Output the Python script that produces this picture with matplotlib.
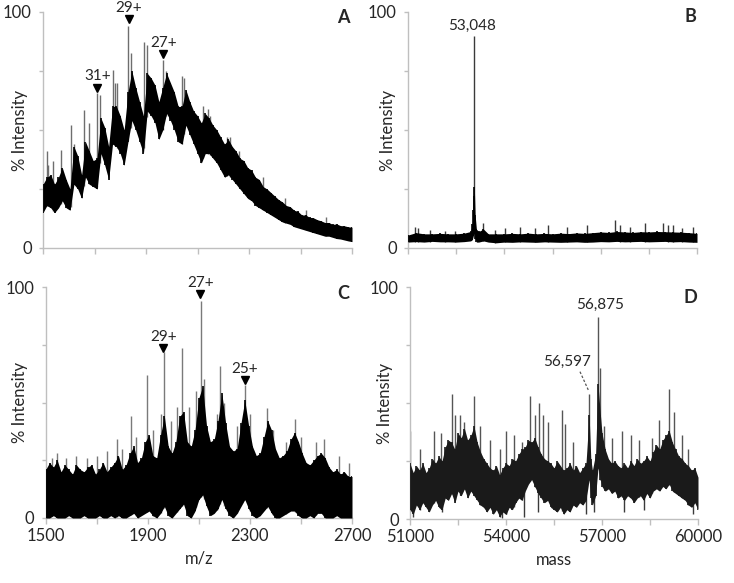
import numpy as np
import matplotlib
matplotlib.use("Agg")
import matplotlib.pyplot as plt

plt.rcParams['font.family'] = ['Lato', 'DejaVu Sans']

# ---------------- Panel A (m/z, native) ----------------
a_x = [1500, 1515, 1530, 1545, 1560, 1575, 1590, 1605, 1620, 1635, 1650, 1665, 1680, 1695, 1710,
       1725, 1740, 1755, 1770, 1785, 1800, 1815, 1830, 1845, 1860, 1875, 1890, 1905, 1920, 1935,
       1950, 1965, 1980, 1995, 2010, 2025, 2040, 2055, 2070, 2085, 2100, 2115, 2130, 2145, 2160,
       2175, 2190, 2205, 2220, 2235, 2250, 2265, 2280, 2295, 2310, 2325, 2340, 2355, 2370, 2385,
       2400, 2415, 2430, 2445, 2460, 2475, 2490, 2505, 2520, 2535, 2550, 2565, 2580, 2595, 2610,
       2625, 2640, 2655, 2670, 2685, 2700]
a_lo = [15, 18, 17, 15, 17, 20, 17, 16, 27, 25, 21, 30, 27, 26, 25,
        40, 35, 29, 44, 43, 40, 35, 45, 54, 50, 45, 40, 58, 56, 53,
        46, 50, 57, 54, 50, 45, 44, 52, 48, 44, 40, 36, 40, 40, 38,
        36, 33, 30, 31, 29, 27, 25, 23, 21, 20, 18, 17, 16, 15, 14,
        13, 12, 11, 10.5, 10, 9, 8.5, 8, 7.5, 7, 6.5, 6, 5.5, 5, 5,
        4.5, 4, 3.8, 3.4, 3, 2.7]
a_hi = [27, 30, 31, 27, 30, 34, 29, 25, 43, 39, 31, 45, 41, 37, 38,
        55, 51, 43, 60, 60, 56, 50, 66, 75, 68, 62, 56, 74, 72, 69,
        62, 68, 74, 70, 66, 60, 60, 67, 62, 58, 56, 53, 57, 55, 52,
        50, 47, 44, 46, 43, 41, 38, 37, 34, 33, 30, 29, 26, 25, 23.5,
        22, 20.5, 19.5, 18, 17.5, 16, 15.5, 14, 14, 13, 12.8, 12, 11.5, 10.8, 10.8,
        10, 10.2, 9.5, 9.4, 9, 8.8]
a_spike_x = [1514, 1521, 1540, 1569, 1607, 1620, 1659, 1680, 1711, 1721, 1770, 1780, 1788,
             1831, 1840, 1892, 1903, 1965, 1978, 2039, 2048, 2123, 2140, 2150, 2213, 2228,
             2260, 2355, 2440, 2520, 2600]
a_spike_y = [41, 35, 37, 41.5, 52, 44, 58.5, 53, 65.5, 65, 75.4, 70, 70,
             94, 82.5, 87.4, 86, 79.7, 75, 73, 72, 60, 59, 56, 47, 47,
             41, 30, 21, 16, 13]
a_marks = ['31+', '29+', '27+']
a_mark_x = [1711, 1833, 1967]
a_mark_y = [68, 97, 82]

# ---------------- Panel B (mass, native) ----------------
b_x = [51000, 51250, 51500, 51750, 52000, 52250, 52500, 52750, 52950, 53000, 53030, 53048, 53065,
       53090, 53130, 53200, 53350, 53500, 53750, 54000, 54250, 54500, 54750, 55000, 55250, 55500,
       55750, 56000, 56250, 56500, 56750, 57000, 57250, 57500, 57750, 58000, 58250, 58500, 58750,
       59000, 59250, 59500, 59750, 60000]
b_lo = [2.5, 2.7, 2.5, 2.8, 2.6, 2.6, 2.5, 2.7, 3, 3.5, 5, 6, 8,
        4, 2.5, 2.5, 3, 2.5, 2.2, 2.5, 2.4, 2.6, 2.5, 2.4, 2.6, 2.5,
        2.4, 2.5, 2.6, 2.4, 2.5, 2.7, 2.6, 2.8, 2.6, 2.7, 2.8, 2.6, 2.7,
        2.8, 2.6, 2.7, 2.5, 2.4]
b_hi = [5.5, 6.5, 6, 6, 6.2, 6, 6, 6.3, 7, 10, 16, 22, 26,
        14, 8, 7, 8, 6, 6, 6, 6.2, 6, 6.3, 6, 6.2, 6,
        6.3, 6.1, 6.4, 6.2, 6.5, 6.8, 6.6, 7, 6.8, 6.6, 6.9, 6.8, 7,
        6.9, 6.8, 6.7, 6.5, 6.2]
b_spike_x = [51218, 51322, 51685, 52152, 52463, 53048, 53346, 53709, 54020, 54487, 54954, 55370,
             55941, 56564, 57446, 57602, 57913, 58380, 58951, 59107, 59263, 59522, 59885]
b_spike_y = [9, 8.5, 7.8, 7, 7, 90, 10.5, 7.8, 8.5, 9, 8.5, 9.7,
             9, 9.7, 11.9, 9.7, 9, 10.5, 10.5, 9.7, 9.7, 8.5, 9]
b_peak_label = '53,048'
b_peak_x = 53000
b_peak_y = 94

# ---------------- Panel C (m/z, deglycosylated) ----------------
c_x = [1500, 1515, 1530, 1545, 1560, 1575, 1590, 1605, 1620, 1635, 1650, 1665, 1680, 1695, 1710,
       1725, 1740, 1755, 1770, 1785, 1800, 1815, 1830, 1845, 1860, 1875, 1890, 1905, 1920, 1935,
       1950, 1965, 1980, 1995, 2010, 2025, 2040, 2055, 2070, 2085, 2100, 2115, 2130, 2145, 2160,
       2175, 2190, 2205, 2220, 2235, 2250, 2265, 2280, 2295, 2310, 2325, 2340, 2355, 2370, 2385,
       2400, 2415, 2430, 2445, 2460, 2475, 2490, 2505, 2520, 2535, 2550, 2565, 2580, 2595, 2610,
       2625, 2640, 2655, 2670, 2685, 2700]
c_lo = [0, 0, 1, 0, 0, 0, 1, 0, 0, 0, 1, 0, 0, 0, 1,
        0, 0, 1, 0, 1, 0, 0, 1, 2, 0, 1, 2, 3, 1, 0,
        2, 5, 1, 0, 2, 4, 6, 1, 0, 3, 8, 10, 5, 1, 2,
        4, 8, 4, 1, 0, 2, 5, 8, 4, 1, 0, 1, 3, 5, 2,
        0, 0, 1, 2, 3, 3, 1, 0, 0, 1, 0, 2, 2, 0, 0,
        0, 1, 0, 0, 0, 0]
c_hi = [21, 24, 22, 25, 20, 23, 21, 19, 23, 21, 20, 22, 23, 19, 21,
        24, 20, 22, 24, 27, 21, 23, 28, 31, 24, 26, 33, 36, 27, 26,
        36, 44, 31, 28, 33, 44, 46, 33, 31, 38, 52, 57, 40, 33, 34,
        42, 54, 41, 31, 29, 30, 41, 51, 40, 31, 27, 28, 35, 42, 38,
        30, 26, 27, 29, 34, 37, 33, 28, 24, 23, 25, 27, 28, 26, 22,
        20, 21, 19, 20, 18, 18]
c_spike_x = [1525, 1545, 1580, 1620, 1660, 1700, 1740, 1778, 1800, 1836, 1855, 1897, 1920, 1951,
             1962, 1990, 2013, 2033, 2060, 2090, 2107, 2120, 2170, 2183, 2200, 2250, 2281, 2300,
             2366, 2390, 2440, 2477, 2500, 2560, 2590, 2650, 2690]
c_spike_y = [26, 28, 26, 27, 26, 27, 29, 34, 30, 44, 35, 62, 38, 45,
             72, 42, 48, 73.5, 48, 55, 94, 60, 45, 66, 50, 40, 57.6, 45,
             47.5, 38, 33, 43, 35, 33, 34, 27, 24]
c_marks = ['29+', '27+', '25+']
c_mark_x = [1961, 2105, 2281]
c_mark_y = [73.4, 97, 59.7]

# ---------------- Panel D (mass, deglycosylated) ----------------
d_x = [51000, 51100, 51200, 51300, 51400, 51500, 51600, 51700, 51800, 51900, 52000, 52100, 52200,
       52300, 52400, 52500, 52600, 52700, 52800, 52900, 53000, 53100, 53200, 53300, 53400, 53500,
       53600, 53700, 53800, 53900, 54000, 54100, 54200, 54300, 54400, 54500, 54600, 54700, 54800,
       54900, 55000, 55100, 55200, 55300, 55400, 55500, 55600, 55700, 55800, 55900, 56000, 56100,
       56200, 56300, 56400, 56500, 56597, 56650, 56700, 56800, 56875, 56950, 57000, 57100, 57200,
       57300, 57400, 57500, 57600, 57700, 57800, 57900, 58000, 58100, 58200, 58300, 58400, 58500,
       58600, 58700, 58800, 58900, 59000, 59100, 59200, 59300, 59400, 59500, 59600, 59700, 59800,
       59900, 60000]
d_lo = [4, 2, 6, 4, 7, 5, 3, 6, 8, 5, 4, 9, 8,
        11, 7, 12, 10, 13, 9, 12, 10, 8, 6, 5, 3, 5,
        2, 4, 1, 3, 2, 5, 4, 7, 9, 8, 12, 15, 17,
        14, 11, 9, 7, 8, 5, 4, 3, 5, 2, 4, 3, 6,
        5, 7, 6, 8, 17, 9, 6, 10, 22, 17, 14, 12, 13,
        11, 12, 9, 10, 8, 10, 9, 7, 9, 10, 8, 11, 9,
        12, 13, 12, 14, 13, 15, 12, 11, 10, 9, 8, 6, 5,
        7, 4]
d_hi = [24, 20, 23, 21, 24, 20, 22, 26, 24, 27, 25, 31, 34,
        33, 30, 37, 35, 39, 34, 36, 40, 33, 29, 26, 24, 22,
        21, 23, 19, 22, 24, 23, 26, 25, 28, 30, 31, 34, 33,
        35, 31, 28, 26, 25, 24, 22, 25, 23, 21, 22, 24, 21,
        23, 20, 22, 24, 45, 26, 21, 28, 58, 45, 37, 30, 26,
        24, 25, 23, 22, 24, 22, 25, 23, 26, 24, 25, 27, 25,
        29, 32, 30, 34, 36, 38, 33, 30, 27, 26, 24, 23, 21,
        22, 18]
d_spike_x = [51010, 51300, 51740, 51960, 52302, 52420, 52573, 52700, 52990, 53200, 53500, 53800,
             54000, 54240, 54500, 54760, 54900, 55021, 55150, 55300, 55750, 55850, 56100, 56597,
             56875, 56950, 57060, 57300, 57630, 57900, 58150, 58570, 58770, 59084, 59240, 59500, 59700]
d_spike_y = [38, 30, 38, 37, 54, 45, 45, 42, 53, 40, 34, 30,
             38, 36, 33, 53, 45, 50, 45, 42, 47, 41, 33, 54,
             87, 65, 40, 35, 38, 36, 34, 35, 42.7, 56, 46, 36, 30]
d_dip_x = [51100, 52000, 53870, 54000, 54560, 55000, 56500, 56760, 57700, 58300, 59850]
d_dip_y = [1, 3, 0.5, 2, 1, 3, 2, 3, 3, 4, 2]
d_labels = ['56,875', '56,597']
d_label_x = [56937, 55896]
d_label_y = [92.2, 67.8]
d_leader_x = [56312, 56572]
d_leader_y = [63.5, 55.6]

W, H = 734, 583
fig = plt.figure(figsize=(W / 100, H / 100), dpi=100)

def px_axes(l, r, t, b):
    return fig.add_axes([l / W, 1 - b / H, (r - l) / W, (b - t) / H])

axA = px_axes(43, 352, 12, 248)
axB = px_axes(408, 697, 12, 248)
axC = px_axes(45.7, 352, 287, 518)
axD = px_axes(410, 698, 287, 519)

GRAY = '#bfbfbf'
TXT = '#262626'

def style(ax, xlim, major, minor, show_xlabels, ylab_x):
    ax.set_xlim(*xlim)
    ax.set_ylim(0, 100)
    for s in ['top', 'right']:
        ax.spines[s].set_visible(False)
    for s in ['left', 'bottom']:
        ax.spines[s].set_color(GRAY)
        ax.spines[s].set_linewidth(1.0)
    ax.set_xticks(minor)
    if show_xlabels:
        ax.set_xticklabels([str(v) if v in major else '' for v in minor])
    else:
        ax.set_xticklabels([])
    ax.set_yticks([0, 25, 50, 75, 100])
    ax.set_yticklabels(['0', '', '', '', '100'])
    ax.tick_params(axis='both', colors=GRAY, labelcolor=TXT, labelsize=12, length=4, width=1)
    ax.tick_params(axis='y', pad=5, length=3)
    ax.tick_params(axis='x', pad=3)
    ax.set_ylabel('% Intensity', fontsize=12, color=TXT, va='center')
    ax.yaxis.set_label_coords(ylab_x, 0.5)

def body(ax, x, lo, hi, sx, sy, spike_col, spike_lw, body_col='black'):
    x = np.asarray(x, float)
    lo = np.asarray(lo, float)
    hi = np.asarray(hi, float)
    sx = np.asarray(sx, float)
    ax.vlines(sx, np.interp(sx, x, lo), sy, color=spike_col, lw=spike_lw, zorder=2)
    ax.fill_between(x, lo, hi, color=body_col, lw=0, zorder=3)
    ax.vlines(x, lo, hi, color=body_col, lw=1.2, zorder=3)

def letter(ax, s, xf, yf):
    ax.text(xf, yf, s, transform=ax.transAxes, ha='center', va='center',
            fontsize=13, fontweight='bold', color=TXT)

def charge_marks(ax, labels, xs, ys):
    for lab, mx, my in zip(labels, xs, ys):
        ax.plot([mx], [my], marker='v', color='black', ms=6, clip_on=False, zorder=5)
        ax.annotate(lab, (mx, my), xytext=(0, 3), textcoords='offset points', ha='center',
                    va='bottom', fontsize=11, color=TXT, annotation_clip=False)

mz_minor = [1500, 1700, 1900, 2100, 2300, 2500, 2700]
mz_major = [1500, 1900, 2300, 2700]
m_minor = [51000, 52500, 54000, 55500, 57000, 58500, 60000]
m_major = [51000, 54000, 57000, 60000]

# A
body(axA, a_x, a_lo, a_hi, a_spike_x, a_spike_y, '#6e6e6e', 1.0)
style(axA, (1500, 2700), mz_major, mz_minor, False, -0.074)
charge_marks(axA, a_marks, a_mark_x, a_mark_y)
letter(axA, 'A', 0.971, 0.975)

# B
body(axB, b_x, b_lo, b_hi, b_spike_x, b_spike_y, '#3a3a3a', 1.0)
style(axB, (51000, 60000), m_major, m_minor, False, -0.069)
axB.text(b_peak_x, b_peak_y, b_peak_label, ha='center', va='center', fontsize=11, color=TXT)
letter(axB, 'B', 0.976, 0.979)

# C
body(axC, c_x, c_lo, c_hi, c_spike_x, c_spike_y, '#7a7a7a', 1.0)
style(axC, (1500, 2700), mz_major, mz_minor, True, -0.084)
axC.set_xlabel('m/z', fontsize=12, color=TXT, labelpad=5)
charge_marks(axC, c_marks, c_mark_x, c_mark_y)
letter(axC, 'C', 0.971, 0.974)

# D
dx = np.asarray(d_dip_x, float)
axD.vlines(dx, d_dip_y, np.interp(dx, d_x, d_lo) + 2, color='#3a3a3a', lw=1.0, zorder=2)
body(axD, d_x, d_lo, d_hi, d_spike_x, d_spike_y, '#555555', 1.0, body_col='#1a1a1a')
style(axD, (51000, 60000), m_major, m_minor, True, -0.087)
axD.set_xlabel('mass', fontsize=12, color=TXT, labelpad=5)
for lab, lx, ly in zip(d_labels, d_label_x, d_label_y):
    axD.text(lx, ly, lab, ha='center', va='center', fontsize=11, color=TXT)
axD.plot(d_leader_x, d_leader_y, ls=(0, (2, 1.5)), color='#555555', lw=0.9)
letter(axD, 'D', 0.972, 0.953)

fig.savefig('out.png', dpi=100, facecolor='white')
